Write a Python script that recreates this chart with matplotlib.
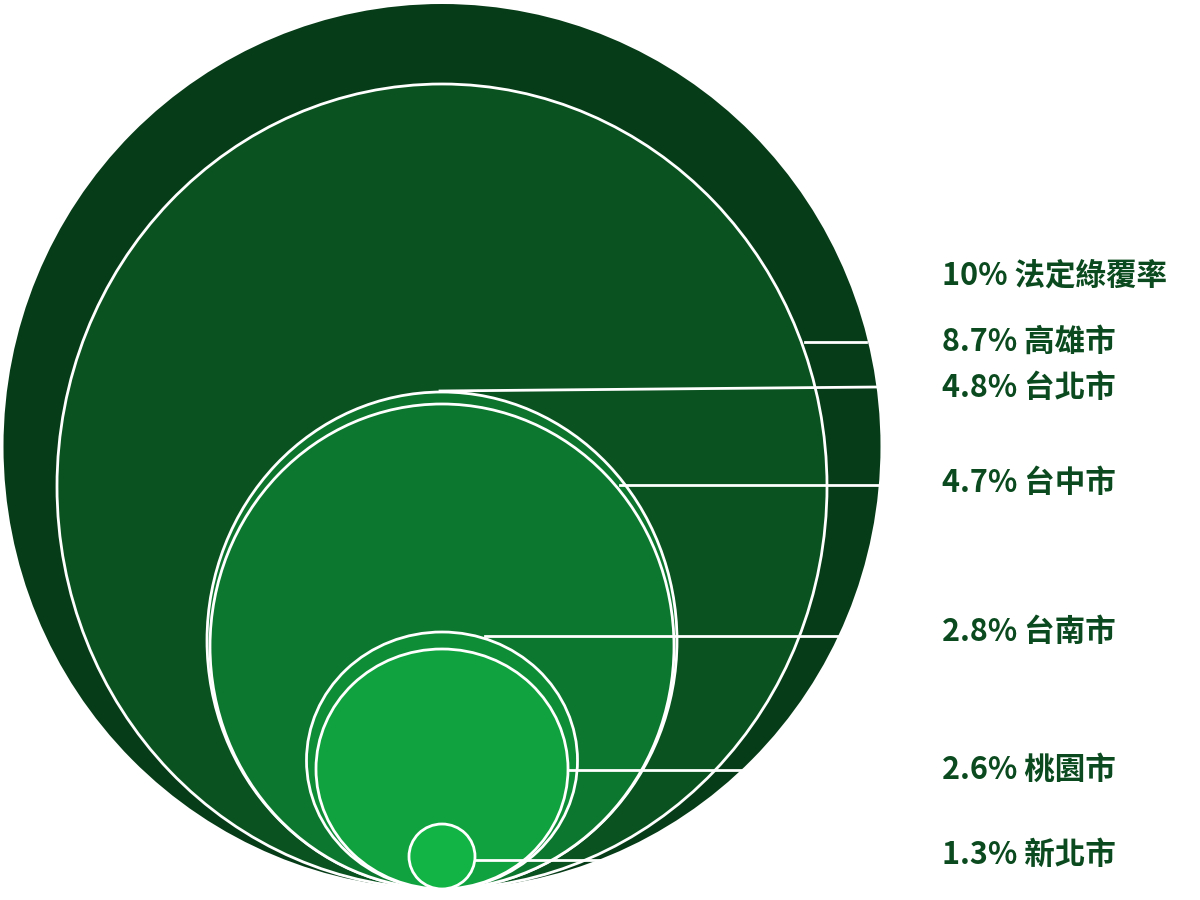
import matplotlib.pyplot as plt
from matplotlib.patches import Ellipse

plt.rcParams['font.family'] = ['Noto Sans CJK TC', 'DejaVu Sans']

# data
labels = ['10% 法定綠覆率', '8.7% 高雄市', '4.8% 台北市', '4.7% 台中市',
          '2.8% 台南市', '2.6% 桃園市', '1.3% 新北市']
values = [10, 8.7, 4.8, 4.7, 2.8, 2.6, 1.3]
# circle sizes as drawn (pixels, width / height)
widths = [877, 770, 470, 464, 271, 252, 66]
heights = [885, 805, 497, 485, 257, 240, 65]
colors = ['#073c18', '#0a5220', '#0c742d', '#0c772e', '#0e8d36', '#10a23e', '#12b545']
label_y = [276, 342, 388, 483, 632, 770, 855]
# leader lines: (x start, y start, x end, y end)
leaders = [None, (805, 342, 866, 342), (440, 391, 878, 387), (620, 485, 880, 485),
           (485, 636, 840, 636), (568, 770, 748, 770), (476, 860, 612, 860)]

cx, bottom = 442, 889

fig = plt.figure(figsize=(12, 9), dpi=100)
ax = fig.add_axes([0, 0, 1, 1])
ax.set_xlim(0, 1200)
ax.set_ylim(900, 0)
ax.axis('off')

for i, (w, h, c) in enumerate(zip(widths, heights, colors)):
    ec = 'none' if i == 0 else 'white'
    ax.add_patch(Ellipse((cx, bottom - h / 2), w, h, facecolor=c, edgecolor=ec, lw=2, zorder=i + 1))
    if leaders[i]:
        x0, y0, x1, y1 = leaders[i]
        ax.plot([x0, x1], [y0, y1], color='white', lw=2, zorder=i + 1.5)

for lab, y in zip(labels, label_y):
    ax.text(942, y, lab, fontsize=22, color='#0a4a1e', va='center', ha='left', fontweight='bold')

plt.savefig('out.png')
